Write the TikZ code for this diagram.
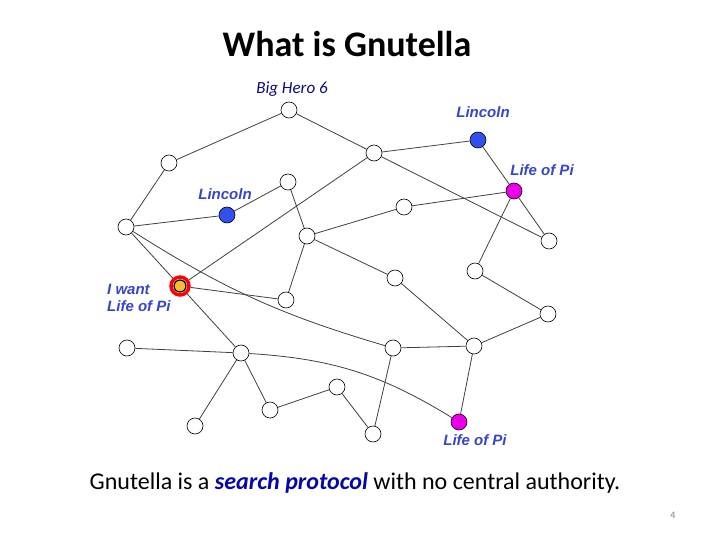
\documentclass[tikz,border=0pt]{standalone}
\usepackage{fontspec}
\setmainfont{Carlito}
\newfontfamily\arialf{Liberation Sans}
\begin{document}
\begin{tikzpicture}[x=1pt,y=-1pt,
  peer/.style={circle,draw=black,line width=0.6pt,fill=white,minimum size=16pt,inner sep=0pt},
  lincolnpeer/.style={peer,fill=blueA},
  pipeer/.style={peer,fill=magA},
  wantpeer/.style={peer,fill=yelA,minimum size=12pt,line width=1.2pt},
  link/.style={draw=black!75,line width=0.8pt},
  lbl/.style={text=lblblue,font=\arialf\bfseries\itshape\fontsize{15}{17}\selectfont,inner sep=0pt}]
\definecolor{blueA}{RGB}{50,80,240}
\definecolor{magA}{RGB}{235,0,235}
\definecolor{yelA}{RGB}{245,190,50}
\definecolor{lblblue}{RGB}{55,70,200}
\definecolor{navyA}{RGB}{10,10,130}
\useasboundingbox (0,0) rectangle (720,540);
\fill[white] (0,0) rectangle (720,540);
% title
\node[font=\bfseries\fontsize{36}{42}\selectfont,inner sep=0pt] (title) at (347,44) {What is Gnutella};
\node[font=\itshape\fontsize{17}{19}\selectfont,text=navyA,inner sep=0pt] (bh) at (292,89) {Big Hero 6};
% nodes
\node[peer] (A) at (289,110) {};
\node[peer] (B) at (169,163) {};
\node[peer] (C) at (126,227) {};
\node[lincolnpeer] (L1) at (227,215) {};
\node[peer] (D) at (288,182) {};
\node[peer] (E) at (374,153) {};
\node[lincolnpeer] (L2) at (478,140) {};
\node[pipeer] (P1) at (514,191) {};
\node[peer] (F) at (404,207) {};
\node[peer] (G) at (307,236) {};
\node[peer] (H) at (549,241) {};
\node[circle,draw=red,line width=3.5pt,minimum size=18pt,inner sep=0pt] (Iring) at (180,286) {};
\node[wantpeer] (I) at (180,286) {};
\node[peer] (J) at (286,300) {};
\node[peer] (K) at (395,278) {};
\node[peer] (M) at (475,271) {};
\node[peer] (N) at (548,314) {};
\node[peer] (O) at (127,348) {};
\node[peer] (Q) at (241,353) {};
\node[peer] (R) at (393,348) {};
\node[peer] (S) at (474,346) {};
\node[pipeer] (P2) at (459,422) {};
\node[peer] (T) at (337,387) {};
\node[peer] (U) at (270,410) {};
\node[peer] (V) at (195,426) {};
\node[peer] (W) at (373,434) {};
% edges
\draw[link] (A) -- (B);
\draw[link] (A) -- (E);
\draw[link] (B) -- (C);
\draw[link] (C) -- (L1);
\draw[link] (L1) -- (D);
\draw[link] (C) -- (Iring);
\draw[link] (C) to[bend right=8] (R);
\draw[link] (Iring) -- (E);
\draw[link] (Iring) -- (J);
\draw[link] (Iring) -- (Q);
\draw[link] (D) -- (G);
\draw[link] (G) -- (J);
\draw[link] (G) -- (F);
\draw[link] (F) -- (P1);
\draw[link] (G) -- (K);
\draw[link] (K) -- (S);
\draw[link] (E) -- (L2);
\draw[link] (E) -- (H);
\draw[link] (L2) -- (P1);
\draw[link] (P1) -- (H);
\draw[link] (P1) -- (M);
\draw[link] (M) -- (N);
\draw[link] (N) -- (S);
\draw[link] (R) -- (S);
\draw[link] (S) -- (P2);
\draw[link] (Q) to[bend left=14] (P2);
\draw[link] (O) -- (Q);
\draw[link] (Q) -- (V);
\draw[link] (Q) -- (U);
\draw[link] (U) -- (T);
\draw[link] (T) -- (W);
\draw[link] (R) -- (W);
% labels
\node[lbl] (t1) at (483,112) {Lincoln};
\node[lbl] (t2) at (542,170) {Life of Pi};
\node[lbl] (t3) at (225,194) {Lincoln};
\node[lbl,align=left,anchor=north west] (t4) at (107,284) {I want\\Life of Pi};
\node[lbl] (t5) at (475,440) {Life of Pi};
% caption
\node[font=\fontsize{24}{28}\selectfont,inner sep=0pt] (cap) at (355,483) {Gnutella is a \textcolor{navyA!70!blue}{\textbf{\textit{search protocol}}} with no central authority.};
\node[font=\fontsize{10}{12}\selectfont,text=gray,inner sep=0pt] (pg) at (673,515) {4};
\end{tikzpicture}
\end{document}
